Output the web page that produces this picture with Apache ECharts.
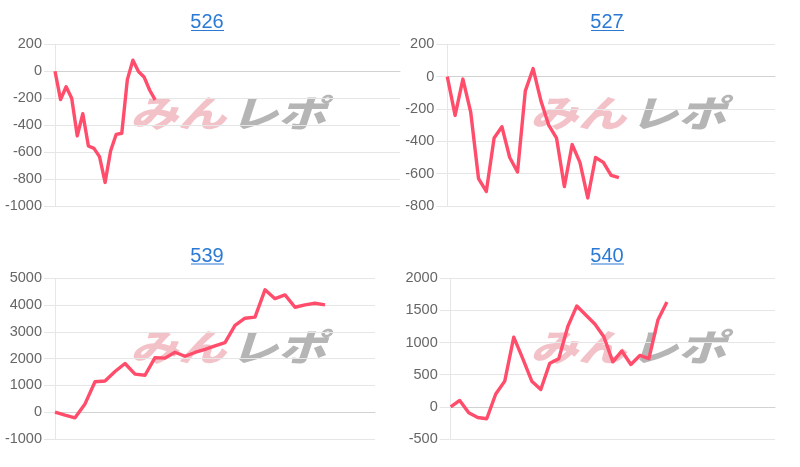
<!DOCTYPE html>
<html>
<head>
<meta charset="utf-8">
<script src="https://cdn.jsdelivr.net/npm/echarts@6/dist/echarts.min.js"></script>
<style>
html,body{margin:0;padding:0;background:#fff;}
#c{width:800px;height:467px;}
</style>
</head>
<body>
<div id="c"></div>
<script>
// ---- data ----
const titles = ['526', '527', '539', '540'];
const categoryCounts = [63, 43, 33, 37];

const values526 = [0, -210, -115, -200, -480, -315, -555, -572, -634, -825, -590, -468, -460, -62, 82, -2, -42, -139, -212];
const values527 = [0, -240, -15, -220, -630, -710, -380, -310, -500, -590, -88, 50, -150, -300, -380, -680, -420, -530, -750, -500, -530, -610, -625];
const values539 = [0, -110, -210, 310, 1140, 1165, 1520, 1820, 1420, 1380, 2040, 2020, 2240, 2090, 2230, 2350, 2480, 2600, 3240, 3510, 3550, 4570, 4240, 4380, 3920, 4010, 4070, 4010];
const values540 = [0, 100, -90, -165, -185, 200, 400, 1085, 750, 400, 270, 680, 750, 1250, 1570, 1430, 1290, 1090, 700, 870, 660, 800, 750, 1350, 1630];

const yTicks526 = [-1000, -800, -600, -400, -200, 0, 200];
const yTicks527 = [-800, -600, -400, -200, 0, 200];
const yTicks539 = [-1000, 0, 1000, 2000, 3000, 4000, 5000];
const yTicks540 = [-500, 0, 500, 1000, 1500, 2000];

// ---- layout ----
const seriesValues = [values526, values527, values539, values540];
const yTicks = [yTicks526, yTicks527, yTicks539, yTicks540];
const grids = [
  {left: 55, top: 44.3, width: 345, height: 161.7},
  {left: 447.3, top: 44.3, width: 327.7, height: 161.7},
  {left: 55, top: 278.3, width: 320, height: 160.7},
  {left: 450.7, top: 278.3, width: 324.3, height: 160.7}
];
const titlePos = [[207, 12.5], [607, 12.5], [207, 246], [607, 246]];
const underline = [[191, 224, 30.5], [591, 624, 30.5], [191, 224, 264], [591, 624, 264]];
const wmPos = [[130, 98], [530, 98], [130, 332], [530, 332]];

const LINE = '#ff4d6b';
const GRID = '#e6e6e6';
const ZERO = '#c4c4c4';
const TITLE = '#2a7ad5';

const option = {
  animation: false,
  backgroundColor: '#fff',
  title: titles.map((t, i) => ({
    text: t,
    left: titlePos[i][0],
    top: titlePos[i][1],
    textAlign: 'center',
    padding: 0,
    textStyle: {color: TITLE, fontSize: 20, fontWeight: 'normal', fontFamily: 'Liberation Sans, Arial, sans-serif', lineHeight: 20}
  })),
  grid: grids.map(g => Object.assign({containLabel: false}, g)),
  xAxis: categoryCounts.map((n, i) => ({
    type: 'category',
    gridIndex: i,
    boundaryGap: false,
    data: Array.from({length: n}, (_, k) => String(k + 1)),
    axisLine: {show: true, lineStyle: {color: '#d2d2d2', width: 1}},
    axisTick: {show: false},
    axisLabel: {show: false},
    splitLine: {show: false}
  })),
  yAxis: yTicks.map((ticks, i) => {
    const interval = ticks[1] - ticks[0];
    const colors = ticks.map(v => v === 0 ? ZERO : GRID);
    return {
      type: 'value',
      gridIndex: i,
      min: ticks[0],
      max: ticks[ticks.length - 1],
      interval: interval,
      axisLine: {show: true, lineStyle: {color: GRID}},
      axisTick: {show: true, length: 11, lineStyle: {color: GRID}},
      axisLabel: {color: '#666', fontSize: 14.5, margin: 13, fontFamily: 'Liberation Sans, Arial, sans-serif', formatter: v => String(v)},
      splitLine: {show: true, lineStyle: {color: colors, width: 1}}
    };
  }),
  series: seriesValues.map((vals, i) => ({
    type: 'line',
    xAxisIndex: i,
    yAxisIndex: i,
    data: vals,
    symbol: 'none',
    z: 5,
    lineStyle: {color: LINE, width: 3.4, join: 'round'}
  })),
  graphic: [].concat(
    underline.map(u => ({
      type: 'line',
      shape: {x1: u[0], y1: u[2], x2: u[1], y2: u[2]},
      style: {stroke: TITLE, lineWidth: 1.2},
      silent: true
    })),
    wmPos.map(p => ({
      type: 'group',
      x: p[0],
      y: p[1],
      silent: true,
      z: 1,
      children: [
        {type: 'text', x: 0, y: -4, scaleX: 1.3, style: {text: 'みん', fill: 'rgba(226,120,132,0.45)', font: 'italic 900 37px "Noto Sans CJK JP"'}},
        {type: 'text', x: 100, y: -4, scaleX: 1.3, style: {text: 'レポ', fill: 'rgba(150,150,150,0.7)', font: 'italic 900 37px "Noto Sans CJK JP"'}}
      ]
    }))
  )
};

const chart = echarts.init(document.getElementById('c'), null, {renderer: 'canvas'});
chart.setOption(option);
</script>
</body>
</html>
